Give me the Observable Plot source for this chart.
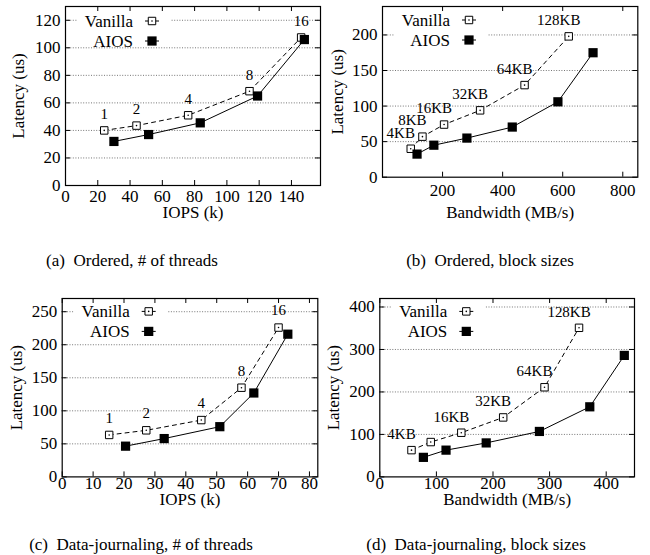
<!DOCTYPE html>
<html><head><meta charset="utf-8">
<script src="https://cdn.jsdelivr.net/npm/d3@7"></script>
<script src="https://cdn.jsdelivr.net/npm/@observablehq/plot@0.6"></script>
<style>
body{margin:0;background:#fff;}
#root{position:relative;width:650px;height:555px;font-family:"Liberation Serif","Times New Roman",serif;color:#000;}
.panel{position:absolute;}
.cap{position:absolute;font-size:17px;white-space:pre;transform:translate(-50%,-50%);}
</style></head><body><div id="root"></div>
<script>
const seriesNames = ["Vanilla", "AIOS"];

// (a) Ordered, # of threads
const aThreads = ["1", "2", "4", "8", "16"];
const aVanillaX = [24, 44, 76, 114, 146];
const aVanillaY = [40, 43.5, 51, 68.5, 107.5];
const aAiosX = [30, 51.5, 83.5, 119, 148];
const aAiosY = [32, 37, 45.5, 65, 106];
const aXTicks = [0, 20, 40, 60, 80, 100, 120, 140];
const aYTicks = [0, 20, 40, 60, 80, 100, 120];

// (b) Ordered, block sizes
const bBlocks = ["4KB", "8KB", "16KB", "32KB", "64KB", "128KB"];
const bVanillaX = [94, 133, 205, 325, 473, 620];
const bVanillaY = [40, 57, 74, 94, 129.5, 198];
const bAiosX = [115, 171, 281, 432, 584, 701];
const bAiosY = [32.5, 45, 55, 70.5, 106, 175];
const bXTicks = [200, 400, 600, 800];
const bYTicks = [0, 50, 100, 150, 200];

// (c) Data-journaling, # of threads
const cThreads = ["1", "2", "4", "8", "16"];
const cVanillaX = [15.2, 27.2, 45, 58, 70];
const cVanillaY = [63.5, 70.5, 86, 135, 226];
const cAiosX = [20.5, 33, 51, 62, 73];
const cAiosY = [46.5, 58, 76, 127, 216];
const cXTicks = [0, 10, 20, 30, 40, 50, 60, 70, 80];
const cYTicks = [0, 50, 100, 150, 200, 250];

// (d) Data-journaling, block sizes
const dBlocks = ["4KB", "", "16KB", "32KB", "64KB", "128KB"];
const dVanillaX = [56, 90, 144, 218, 291, 352];
const dVanillaY = [63, 82, 104, 140, 211, 351];
const dAiosX = [77, 117, 188, 282, 371, 432];
const dAiosY = [46, 63, 80, 107, 165, 286];
const dXTicks = [0, 100, 200, 300, 400];
const dYTicks = [0, 100, 200, 300, 400];

const captions = [
  "(a)  Ordered, # of threads",
  "(b)  Ordered, block sizes",
  "(c)  Data-journaling, # of threads",
  "(d)  Data-journaling, block sizes"
];
const xTitles = ["IOPS (k)", "Bandwidth (MB/s)", "IOPS (k)", "Bandwidth (MB/s)"];
const yTitle = "Latency (us)";

const root = document.getElementById("root");
const FONT = "'Liberation Serif', 'Times New Roman', serif";

function panel(o) {
  const vanilla = o.vX.map((x, i) => ({x, y: o.vY[i], label: o.labels[i]}));
  const aios = o.aX.map((x, i) => ({x, y: o.aY[i]}));
  const innerW = o.width - o.mL - o.mR;
  const innerH = o.height - o.mT - o.mB;
  const svg = Plot.plot({
    width: o.width, height: o.height,
    marginLeft: o.mL, marginRight: o.mR, marginTop: o.mT, marginBottom: o.mB,
    style: {fontFamily: FONT, fontSize: "17px", background: "transparent", color: "#000", overflow: "visible"},
    x: {domain: o.xDomain},
    y: {domain: o.yDomain},
    marks: [
      Plot.gridY(o.yTicks.filter(d => d > 0), {stroke: "#666", strokeOpacity: 1, strokeWidth: 0.9, strokeDasharray: "1,1.6"}),
      Plot.line(aios, {x: "x", y: "y", stroke: "#000", strokeWidth: 1}),
      Plot.line(vanilla, {x: "x", y: "y", stroke: "#000", strokeWidth: 1, strokeDasharray: "4,4"}),
      Plot.dot(vanilla, {x: "x", y: "y", symbol: "square", r: 4.2, fill: "#fff", stroke: "#000", strokeWidth: 1}),
      Plot.dot(vanilla, {x: "x", y: "y", r: 0.8, fill: "#000"}),
      Plot.dot(aios, {x: "x", y: "y", symbol: "square", r: 5.2, fill: "#000"}),
      Plot.text(vanilla.filter(d => d.label), {x: "x", y: "y", text: "label", dx: o.lblDx, dy: o.lblDy, fontSize: 15}),
      // inward ticks on all four sides
      Plot.tickX(o.xTicks, {x: d => d, stroke: "#000", insetTop: innerH - 5}),
      Plot.tickX(o.xTicks, {x: d => d, stroke: "#000", insetBottom: innerH - 5}),
      Plot.tickY(o.yTicks, {y: d => d, stroke: "#000", insetRight: innerW - 5}),
      Plot.tickY(o.yTicks, {y: d => d, stroke: "#000", insetLeft: innerW - 5}),
      Plot.axisX({ticks: o.xTicks, tickSize: 0, tickPadding: o.xPad, label: null, fontSize: 17}),
      Plot.axisY({ticks: o.yTicks, tickSize: 0, tickPadding: 5, label: null, fontSize: 17}),
      Plot.text([o.xTitle], {frameAnchor: "bottom", lineAnchor: "middle", textAnchor: "middle", dy: o.xTitleDy, fontSize: 17}),
      Plot.text([yTitle], {frameAnchor: "left", lineAnchor: "middle", textAnchor: "middle", dx: o.yTitleDx, rotate: -90, fontSize: 17}),
      Plot.frame({stroke: "#000", strokeWidth: 1.2})
    ]
  });

  // legend (gnuplot key, top-left inside, opaque)
  const g = d3.create("svg:g").attr("transform", `translate(${o.mL},${o.mT})`);
  g.append("rect").attr("x", 12).attr("y", 1).attr("width", 94).attr("height", 40).attr("fill", "#fff");
  seriesNames.forEach((name, i) => {
    const yy = o.legY0 + i * 20;
    g.append("text").attr("x", 68).attr("y", yy).attr("text-anchor", "end")
      .attr("dy", "0.35em").attr("font-size", 17).attr("font-family", FONT).text(name);
    g.append("line").attr("x1", 80).attr("x2", 94).attr("y1", yy).attr("y2", yy)
      .attr("stroke", "#000").attr("stroke-width", 1);
    const sym = d3.symbol(d3.symbolSquare, Math.PI * (i === 0 ? 4.2 * 4.2 : 5.2 * 5.2));
    g.append("path").attr("d", sym()).attr("transform", `translate(87,${yy})`)
      .attr("fill", i === 0 ? "#fff" : "#000").attr("stroke", i === 0 ? "#000" : "none");
    if (i === 0) g.append("circle").attr("cx", 87).attr("cy", yy).attr("r", 0.8).attr("fill", "#000");
  });
  const groups = Array.from(svg.children).filter(c => c.tagName.toLowerCase() === "g");
  const first = groups[0];
  svg.insertBefore(g.node(), first ? first.nextSibling : null);

  const div = document.createElement("div");
  div.className = "panel";
  div.style.left = o.left + "px";
  div.style.top = o.top + "px";
  div.appendChild(svg);
  root.appendChild(div);

  const cap = document.createElement("div");
  cap.className = "cap";
  cap.style.left = o.capX + "px";
  cap.style.top = o.capY + "px";
  cap.textContent = o.caption;
  root.appendChild(cap);
}

panel({left: 0, top: 0, width: 325, height: 225, mL: 65, mR: 5, mT: 6, mB: 40,
  xDomain: [0, 158], yDomain: [0, 130], xTicks: aXTicks, yTicks: aYTicks,
  vX: aVanillaX, vY: aVanillaY, aX: aAiosX, aY: aAiosY, labels: aThreads,
  lblDx: 0, lblDy: -16, xPad: 4, xTitle: xTitles[0], xTitleDy: 27, yTitleDx: -47,
  legY0: 15, caption: captions[0], capX: 132, capY: 261});

panel({left: 325, top: 0, width: 325, height: 225, mL: 57, mR: 12.7, mT: 6, mB: 48.3,
  xDomain: [0, 850], yDomain: [0, 240], xTicks: bXTicks, yTicks: bYTicks,
  vX: bVanillaX, vY: bVanillaY, aX: bAiosX, aY: bAiosY, labels: bBlocks,
  lblDx: -10, lblDy: -16, xPad: 7, xTitle: xTitles[1], xTitleDy: 35.3, yTitleDx: -45,
  legY0: 14, caption: captions[1], capX: 490, capY: 261});

panel({left: 0, top: 292.3, width: 325, height: 224.4, mL: 61.7, mR: 7.7, mT: 6, mB: 40,
  xDomain: [0, 82.7], yDomain: [0, 270], xTicks: cXTicks, yTicks: cYTicks,
  vX: cVanillaX, vY: cVanillaY, aX: cAiosX, aY: cAiosY, labels: cThreads,
  lblDx: 0, lblDy: -17, xPad: 0, xTitle: xTitles[2], xTitleDy: 23, yTitleDx: -46,
  legY0: 13.4, caption: captions[2], capX: 141, capY: 545});

panel({left: 325, top: 292.3, width: 325, height: 224.4, mL: 54.3, mR: 16, mT: 6, mB: 40,
  xDomain: [0, 450], yDomain: [0, 420], xTicks: dXTicks, yTicks: dYTicks,
  vX: dVanillaX, vY: dVanillaY, aX: dAiosX, aY: dAiosY, labels: dBlocks,
  lblDx: -10, lblDy: -16, xPad: 0, xTitle: xTitles[3], xTitleDy: 23, yTitleDx: -46,
  legY0: 13.4, caption: captions[3], capX: 476, capY: 545});
</script></body></html>
